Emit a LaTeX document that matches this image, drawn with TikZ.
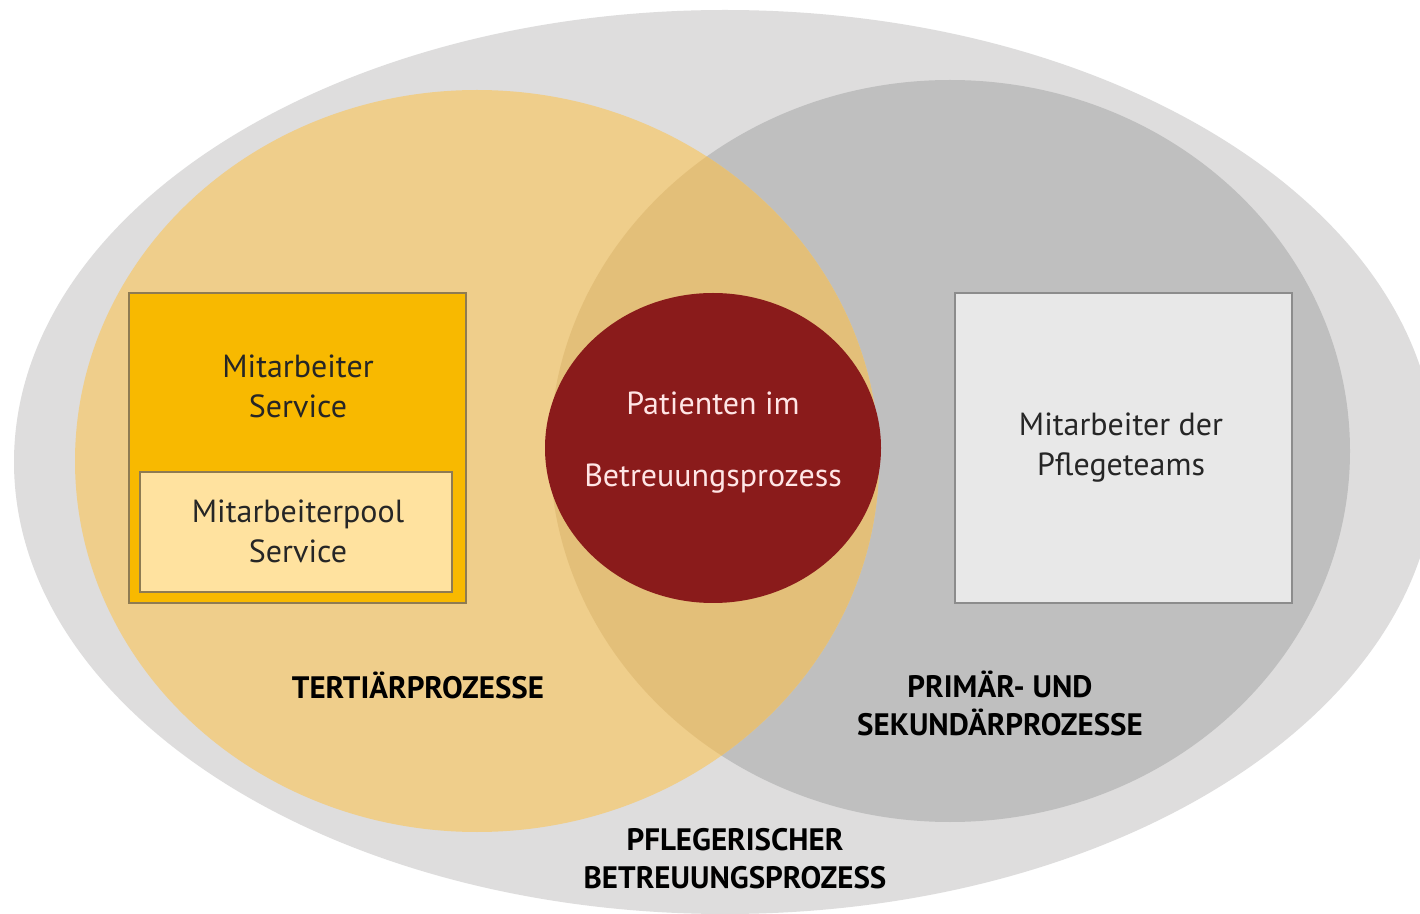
\documentclass[tikz,border=0pt]{standalone}
\usepackage{fontspec}
\setmainfont{PT Sans}
\usetikzlibrary{shapes.geometric}

\definecolor{aussen}{HTML}{DEDDDD}
\definecolor{tertiaer}{HTML}{EFCE8B}
\definecolor{primaer}{HTML}{BFBFBF}
\definecolor{schnitt}{HTML}{E3BF79}
\definecolor{patient}{HTML}{8A1B1B}
\definecolor{service}{HTML}{F8B900}
\definecolor{pool}{HTML}{FFE29F}
\definecolor{rahmen}{HTML}{8E7B52}
\definecolor{team}{HTML}{E8E8E8}

\tikzset{
  feld/.style={ellipse, inner sep=0pt},
  kasten/.style={rectangle, inner sep=0pt, line width=1pt},
  beschrift/.style={font=\fontsize{16}{20}\selectfont, align=center, text=black!85},
  titel/.style={font=\bfseries\fontsize{15.5}{19}\selectfont, align=center, text=black}
}

\begin{document}
\begin{tikzpicture}[x=0.5pt,y=-0.5pt]
		\useasboundingbox (0,0) rectangle (1420,914);
		\fill[white] (0,0) rectangle (1420,914);
		\clip (0,0) rectangle (1420,914);
		
		% Définition des ellipses
		\node[feld, fill=aussen, minimum width=711pt, minimum height=452pt] (pflege) at (725,462) {};
		\node[feld, fill=primaer, minimum width=400pt, minimum height=371pt] (primaer) at (950,451) {};
		\node[feld, fill=tertiaer, minimum width=402pt, minimum height=371pt] (tertiaer) at (477,461) {};
		\begin{scope}
			\clip (477,461) ellipse [x radius=201pt, y radius=185.5pt];
			\fill[schnitt] (950,451) ellipse [x radius=200pt, y radius=185.5pt];
		\end{scope}
		\node[feld, fill=patient, minimum width=168pt, minimum height=155pt] (patient) at (713,448) {};
		
		% Définition des kästen
		\node[kasten, draw=rahmen, fill=service, minimum width=168.5pt, minimum height=155pt] (service) at (297.5,448) {};
		\node[kasten, draw=rahmen, fill=pool, minimum width=156pt, minimum height=60pt] (pool) at (296,532) {};
		\node[kasten, draw=black!45, fill=team, minimum width=168.5pt, minimum height=155pt] (team) at (1123.5,448) {};
		
		% Définition des textes
		\node[beschrift] (tservice) at (298,386) {Mitarbeiter\\Service};
		\node[beschrift] (tpool) at (298,531) {Mitarbeiterpool\\Service};
		\node[beschrift] (tteam) at (1121,448) {Mitarbeiter der\\Pflegeteams};
		\node[beschrift, text=white!90!red, font=\fontsize{16}{36}\selectfont] (tpatient) at (713,443) {Patienten im\\Betreuungsprozess};
		\node[titel] (ttertiaer) at (418,685) {TERTIÄRPROZESSE};
		\node[titel] (tprimaer) at (1000,703) {PRIMÄR- UND\\SEKUNDÄRPROZESSE};
		\node[titel] (tpflege) at (735,859) {PFLEGERISCHER\\BETREUUNGSPROZESS};
	\end{tikzpicture}
\end{document}
